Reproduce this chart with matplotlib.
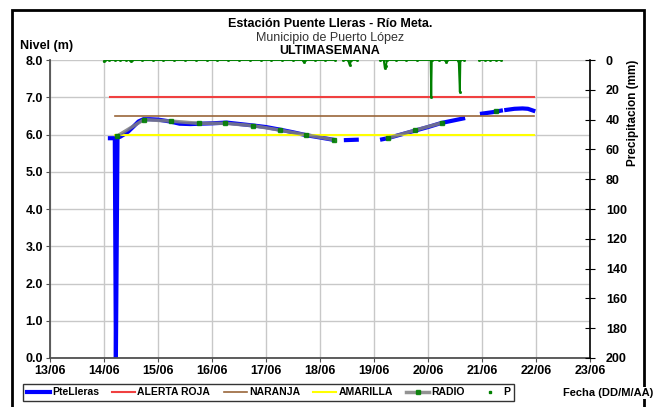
import numpy as np
import matplotlib
matplotlib.use('Agg')
import matplotlib.pyplot as plt
from matplotlib.patches import Rectangle
from matplotlib.lines import Line2D

plt.rcParams['font.family'] = ['Liberation Sans', 'DejaVu Sans']

# dia de junio (fraccion) y nivel (m) -- nan = sin dato
pte_dias = [14.11, 14.20, 14.22, 14.25, 14.30, 14.39, 14.45, 14.55, 14.64, 14.73, 14.85, 15.00,
            15.22, 15.40, 15.60, 15.78, 16.00, 16.27, 16.52, 16.77, 17.00, 17.26, 17.50,
            17.75, 18.00, 18.24, np.nan, 18.48, 18.68, np.nan, 19.15, 19.25, 19.50, 19.75,
            20.00, 20.25, 20.45, 20.65, np.nan, 21.00, 21.20, 21.35, np.nan, 21.45, 21.60,
            21.75, 21.85, 21.95]
pte_nivel = [5.90, 5.90, 0.0, 5.92, 5.94, 6.02, 6.08, 6.22, 6.35, 6.41, 6.41, 6.40,
             6.35, 6.29, 6.28, 6.29, 6.30, 6.32, 6.28, 6.24, 6.20, 6.13, 6.06,
             5.98, 5.92, 5.86, np.nan, 5.85, 5.86, np.nan, 5.87, 5.90, 6.00, 6.10,
             6.20, 6.31, 6.37, 6.43, np.nan, 6.56, 6.60, 6.64, np.nan, 6.66, 6.69,
             6.70, 6.69, 6.64]

radio_dias = [14.235, 14.74, 15.24, 15.75, 16.24, 16.75, 17.25, 17.74, 18.25, np.nan,
              19.25, 19.75, 20.25, np.nan, 21.26]
radio_nivel = [5.95, 6.40, 6.36, 6.30, 6.30, 6.24, 6.12, 5.99, 5.86, np.nan,
               5.90, 6.11, 6.31, np.nan, 6.62]

roja_dias, roja_nivel = [14.11, 21.97], [7.0, 7.0]
naranja_dias, naranja_nivel = [14.20, 21.97], [6.5, 6.5]
amarilla_dias, amarilla_nivel = [14.20, 21.97], [6.0, 6.0]

# precipitacion (mm)
p_dias = [14.00, 14.02, 14.10, 14.20, 14.30, 14.40, 14.48, 14.50, 14.52, 14.70, 14.90, 15.10,
          15.30, 15.50, 15.70, 15.90, 16.10, 16.30, 16.50, 16.70, 16.90, 17.10, 17.30,
          17.50, 17.68, 17.70, 17.72, 17.90, 18.10, 18.28, np.nan, 18.43, 18.52, 18.55,
          18.58, 18.69, np.nan, 19.11, 19.18, 19.20, 19.22, 19.24, 19.40, 19.60, 19.80,
          20.05, 20.06, 20.07, 20.20, 20.32, 20.34, 20.36, 20.55, 20.57, 20.59, 20.60,
          20.66, np.nan, 20.95, 21.05, 21.15, 21.25, 21.36]
p_mm = [1.0, 0, 0, 0, 0, 0, 0, 1.0, 0, 0, 0, 0,
        0, 0, 0, 0, 0, 0, 0, 0, 0, 0, 0,
        0, 0, 1.5, 0, 0, 0, 0, np.nan, 0, 0, 3.5,
        0, 0, np.nan, 0, 0, 5.5, 4.0, 0, 0, 0, 0,
        0, 24.5, 0, 0, 0, 1.5, 0, 0, 2.0, 21.5, 0,
        0, np.nan, 0, 0, 0, 0, 0]

xticks = [13, 14, 15, 16, 17, 18, 19, 20, 21, 22, 23]
xlabels = ['13/06', '14/06', '15/06', '16/06', '17/06', '18/06', '19/06', '20/06',
           '21/06', '22/06', '23/06']

fig = plt.figure(figsize=(6.58, 4.07), dpi=100)
fig.patches.append(Rectangle((12/658, -0.01), 632/658, 1 - 10/407 + 0.01,
                             transform=fig.transFigure, fill=False, edgecolor='black',
                             linewidth=2, zorder=0))

ax = fig.add_axes([50/658, 49/407, 540/658, 298/407])
ax.set_xlim(13, 23)
ax.set_ylim(0, 8)
ax.set_xticks(xticks)
ax.set_xticklabels(xlabels, fontsize=9, fontweight='bold')
ax.set_yticks(np.arange(0, 8.1, 1.0))
ax.set_yticklabels(['%.1f' % v for v in np.arange(0, 8.1, 1.0)], fontsize=9, fontweight='bold')
ax.grid(True, color='#c8c8c8', linewidth=1)
ax.set_axisbelow(True)
for s in ['top', 'right']:
    ax.spines[s].set_visible(False)
for s in ['left', 'bottom']:
    ax.spines[s].set_color('#505050')
    ax.spines[s].set_linewidth(1.3)
ax.tick_params(axis='both', length=3, color='#505050', pad=2)

l1, = ax.plot(pte_dias, pte_nivel, color='#0000ff', linewidth=3, label='PteLleras', zorder=2)
l2, = ax.plot(roja_dias, roja_nivel, color='#f04040', linewidth=1.5, label='ALERTA ROJA', zorder=3)
l3, = ax.plot(naranja_dias, naranja_nivel, color='#99663a', linewidth=1.2, label='NARANJA', zorder=3)
l4, = ax.plot(amarilla_dias, amarilla_nivel, color='#ffff00', linewidth=1.5, label='AMARILLA', zorder=3)
l5, = ax.plot(radio_dias, radio_nivel, color='#808080', linewidth=2.5, alpha=0.85,
              marker='s', markersize=2.5, markerfacecolor='#008000', markeredgecolor='#008000',
              label='RADIO', zorder=4)

ax2 = ax.twinx()
ax2.set_ylim(200, 0)
ax2.set_yticks(np.arange(0, 201, 20))
ax2.set_yticklabels([str(v) for v in range(0, 201, 20)], fontsize=9, fontweight='bold')
for s in ['top', 'left', 'bottom']:
    ax2.spines[s].set_visible(False)
ax2.spines['right'].set_color('black')
ax2.spines['right'].set_linewidth(1.2)
ax2.tick_params(axis='y', direction='inout', length=7, pad=8)
l6, = ax2.plot(p_dias, p_mm, color='#008000', linewidth=1.4, marker='s', markersize=1.0,
               label='P', zorder=5)

fig.text(330/658, 1 - 24/407, 'Estación Puente Lleras - Río Meta.', ha='center', va='center',
         fontsize=9, fontweight='bold')
fig.text(330/658, 1 - 37.5/407, 'Municipio de Puerto López', ha='center', va='center',
         fontsize=9, color='#333333')
fig.text(330/658, 1 - 50.5/407, 'ULTIMASEMANA', ha='center', va='center',
         fontsize=9, fontweight='bold')
fig.text(20/658, 1 - 46/407, 'Nivel (m)', ha='left', va='center', fontsize=9, fontweight='bold')
fig.text(633/658, 1 - 113/407, 'Precipitacion (mm)', ha='center', va='center', rotation=90,
         fontsize=8.5, fontweight='bold')
fig.text(653/658, 1 - 393/407, 'Fecha (DD/M/AA)', ha='right', va='center', fontsize=8,
         fontweight='bold', bbox=dict(facecolor='white', edgecolor='none', pad=1))

p_handle = Line2D([], [], color='#008000', marker='s', markersize=2, linestyle='none')
leg = fig.legend([l1, l2, l3, l4, l5, p_handle],
                 ['PteLleras', 'ALERTA ROJA', 'NARANJA', 'AMARILLA', 'RADIO', 'P'],
                 loc='lower left', bbox_to_anchor=(18/658, 1/407), ncol=6,
                 prop={'size': 7.5, 'weight': 'bold'}, handlelength=2.2, handletextpad=0.2,
                 columnspacing=1.3, borderpad=0.35, frameon=True, fancybox=False)
leg.get_frame().set_edgecolor('black')
leg.get_frame().set_linewidth(1)

fig.savefig('out.png', dpi=100)
